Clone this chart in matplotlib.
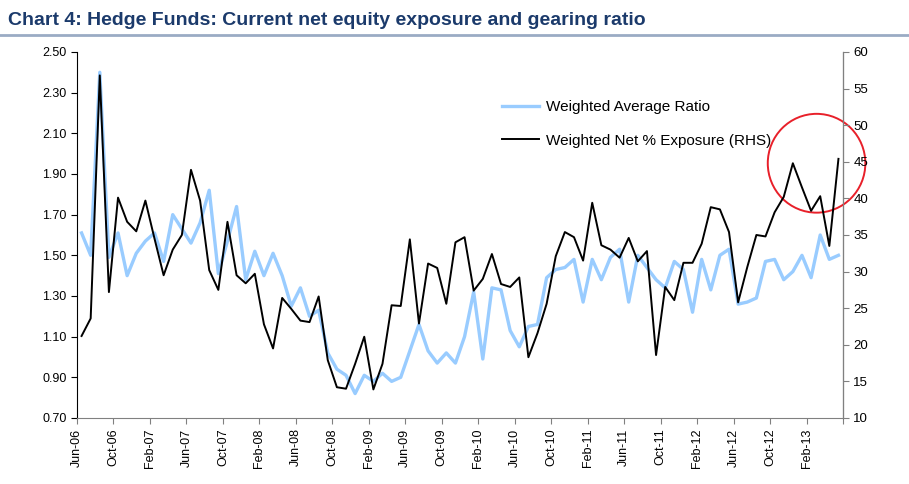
"""
Hedge funds: net equity exposure and gearing ratio (chart 4)
"""

import matplotlib.pyplot as plt
from matplotlib.patches import Ellipse
import pandas as pd

plt.rcParams['font.family'] = ['Liberation Sans', 'DejaVu Sans']

# monthly, Jun-06 .. May-13
months = pd.date_range('2006-06-01', '2013-05-01', freq='MS')

# gearing ratio (left axis)
avg_ratio = [
    1.61, 1.50, 2.40, 1.49, 1.61, 1.40, 1.51, 1.57, 1.61, 1.47,
    1.70, 1.63, 1.56, 1.66, 1.82, 1.41, 1.57, 1.74, 1.38, 1.52,
    1.40, 1.51, 1.40, 1.25, 1.34, 1.20, 1.23, 1.02, 0.94, 0.91,
    0.82, 0.91, 0.88, 0.92, 0.88, 0.90, 1.03, 1.16, 1.03, 0.97,
    1.02, 0.97, 1.10, 1.32, 0.99, 1.34, 1.33, 1.13, 1.05, 1.15,
    1.16, 1.39, 1.43, 1.44, 1.48, 1.27, 1.48, 1.38, 1.49, 1.53,
    1.27, 1.50, 1.44, 1.38, 1.34, 1.47, 1.43, 1.22, 1.48, 1.33,
    1.50, 1.53, 1.26, 1.27, 1.29, 1.47, 1.48, 1.38, 1.42, 1.50,
    1.39, 1.60, 1.48, 1.50,
]

# net exposure in % (right axis)
net_exposure = [
    21.2, 23.6, 56.8, 27.2, 40.1, 36.8, 35.5, 39.7, 34.5, 29.5,
    33.0, 35.0, 43.9, 39.7, 30.2, 27.5, 36.8, 29.5, 28.4, 29.7,
    22.8, 19.5, 26.4, 24.9, 23.3, 23.1, 26.6, 17.9, 14.2, 14.0,
    17.4, 21.1, 13.9, 17.4, 25.4, 25.3, 34.4, 22.9, 31.1, 30.5,
    25.6, 34.0, 34.7, 27.4, 29.0, 32.4, 28.3, 27.9, 29.2, 18.3,
    21.6, 25.6, 32.1, 35.4, 34.7, 31.5, 39.4, 33.6, 33.0, 31.9,
    34.6, 31.4, 32.8, 18.6, 27.9, 26.1, 31.2, 31.2, 33.8, 38.8,
    38.5, 35.4, 25.8, 30.6, 35.0, 34.8, 38.1, 40.2, 44.8, 41.5,
    38.3, 40.3, 33.5, 45.4,
]

tick_every = 4


def plot_chart(save_path='out.png'):
    fig = plt.figure(figsize=(9.09, 4.84), dpi=100)
    ax = fig.add_axes([0.0847, 0.1364, 0.8427, 0.7562])
    ax2 = ax.twinx()

    x = [i + 0.5 for i in range(len(months))]
    l1, = ax.plot(x, avg_ratio, color='#99CCFF', lw=2.4,
                  label='Weighted Average Ratio')
    l2, = ax2.plot(x, net_exposure, color='black', lw=1.4,
                   label='Weighted Net % Exposure (RHS)')

    ax.set_xlim(0, len(months))
    ax.set_ylim(0.70, 2.50)
    ax.set_yticks([0.70 + 0.2 * k for k in range(10)])
    ax.yaxis.set_major_formatter(plt.FuncFormatter(lambda v, _: f'{v:.2f}'))
    ax2.set_ylim(10, 60)
    ax2.set_yticks(range(10, 61, 5))

    ticks = list(range(0, len(months) + 1, tick_every))
    labels = [months[t].strftime('%b-%y') if t < len(months) else ''
              for t in ticks]
    ax.set_xticks(ticks)
    ax.set_xticklabels(labels, rotation=90, fontsize=8.5)

    for a in (ax, ax2):
        a.spines['top'].set_visible(False)
        a.tick_params(direction='out', length=4, labelsize=9)
    ax2.tick_params(labelsize=9.5)
    ax.spines['left'].set_color('black')
    ax.spines['bottom'].set_color('#808080')
    ax2.spines['right'].set_color('#808080')
    ax2.spines['left'].set_visible(False)
    ax2.spines['bottom'].set_visible(False)
    ax.tick_params(axis='x', colors='#808080', labelcolor='black')
    ax2.tick_params(axis='y', colors='#808080', labelcolor='black')

    # red circle around the latest readings
    ax2.add_patch(Ellipse((81.1, 44.8), 10.7, 13.5, fill=False,
                          edgecolor='#E8202A', lw=1.4, clip_on=False))

    fig.legend(handles=[l1, l2], loc='upper left',
               bbox_to_anchor=(0.537, 0.822), frameon=False,
               fontsize=11, handlelength=2.4, labelspacing=1.3,
               handletextpad=0.5)

    fig.text(0.009, 0.958, 'Chart 4: Hedge Funds: Current net equity '
             'exposure and gearing ratio', fontsize=14, fontweight='bold',
             color='#1B3A6B', va='center', stretch='condensed',
             family=['Liberation Sans Narrow', 'Liberation Sans'])
    fig.add_artist(plt.Line2D([0, 1], [0.928, 0.928], color='#9AABC4',
                              lw=2))

    fig.savefig(save_path, dpi=100)
    plt.close(fig)


if __name__ == '__main__':
    plot_chart()
